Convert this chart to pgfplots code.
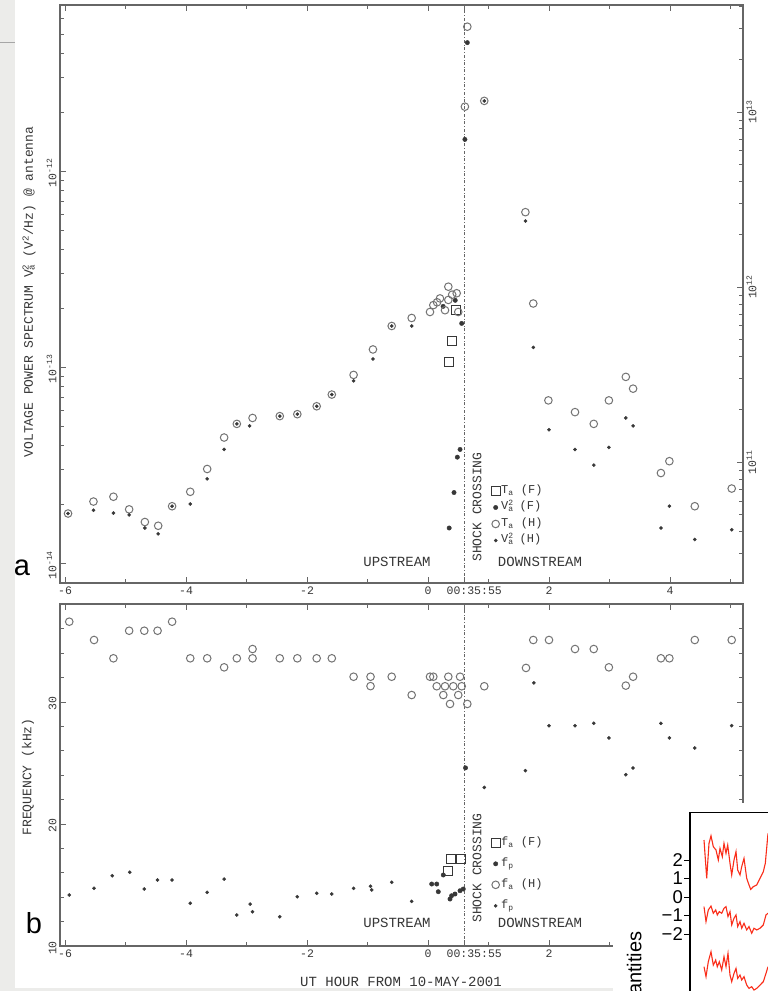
\documentclass[border=0pt]{standalone}
\usepackage{pgfplots}
\pgfplotsset{compat=1.18}
\usepackage{fontspec}
\setmainfont{Liberation Mono}
\newfontfamily\helv{Liberation Sans}
\definecolor{slide}{RGB}{236,236,234}
\definecolor{ink}{RGB}{55,55,55}
\definecolor{redline}{RGB}{250,45,25}
\newcommand\fsz[1]{\fontsize{#1}{#1}\selectfont}
\newcommand\supsub[2]{\rlap{\textsuperscript{#1}}\textsubscript{#2}\hspace{0.5em}}
\pgfplotsset{
  myax/.style={
    scale only axis,
    xmin=-6.083, xmax=5.207,
    axis line style={black!60, line width=1.1pt},
    every tick/.style={black!60, line width=0.8pt},
    major tick length=6pt, minor tick length=4pt,
    tick align=inside,
    xtick={-6,-4,-2,0,2,4},
    xticklabels={-6,-4,-2,0,2,4},
    minor xtick={-5,-3,-1,1,3,5},
    extra x ticks={0.599},
    extra x tick labels={00:35:55},
    extra x tick style={tick label style={xshift=10pt}},
    tick label style={font=\fsz{11.5}, text=ink},
    clip=false,
  },
  tsq/.style={only marks, mark=square, mark size=4.5pt, ink, mark options={line width=0.9pt, fill=none}},
  vf/.style={only marks, mark=*, mark size=2.2pt, ink, mark options={fill=ink}},
  th/.style={only marks, mark=o, mark size=3.8pt, black!55, mark options={line width=1pt}},
  vh/.style={only marks, mark=*, mark size=1.6pt, ink, mark options={fill=ink}},
  legend image code/.code={\draw[mark repeat=2,mark phase=2,#1] plot coordinates {(0pt,0pt) (4pt,0pt) (8pt,0pt)};},
}
\begin{document}
\begin{tikzpicture}[x=1pt,y=1pt]
\path[use as bounding box] (0,0) rectangle (768,-991);
\clip (0,0) rectangle (768,-991);
\fill[slide] (0,0) rectangle (768,-991);
\fill[white] (15,0) rectangle (768,-991);
\draw[black!35, line width=1pt] (0,-42) -- (15,-42);

% ---------------- top panel ----------------
\begin{axis}[myax, at={(60pt,-583pt)}, anchor=south west, width=683pt, height=578pt,
  ymode=log, ymin=7.91e-15, ymax=7.03e-12,
  ytick={1e-14,1e-13,1e-12},
  yticklabels={10\textsuperscript{-14},10\textsuperscript{-13},10\textsuperscript{-12}},
  minor ytick={2e-14,3e-14,4e-14,5e-14,6e-14,7e-14,8e-14,9e-14,2e-13,3e-13,4e-13,5e-13,6e-13,7e-13,8e-13,9e-13,2e-12,3e-12,4e-12,5e-12,6e-12},
  ytick pos=left,
  yticklabel style={rotate=90, anchor=south, xshift=-2pt},
  legend style={draw=none, fill=none, at={(0.631,0.1739)}, anchor=north west, font=\fsz{12}, text=ink,
    row sep=0pt, inner sep=0pt, nodes={inner sep=1pt, text height=9.5pt, text depth=5pt}, cells={anchor=west}},
]
\addplot[forget plot, black!60, dash dot, line width=0.8pt] coordinates {(0.599,7.91e-15) (0.599,7.03e-12)};
\addplot[tsq] coordinates {(0.39,1.36e-13) (0.35,1.06e-13) (0.47,1.95e-13)};
\addplot[vf] coordinates {(0.557,1.67e-13) (0.485,3.47e-14) (0.53,3.80e-14) (0.43,2.29e-14) (0.35,1.51e-14)
  (0.61,1.45e-12) (0.65,4.52e-12) (0.25,2.04e-13) (0.45,2.19e-13)};
\addplot[th] coordinates {(-5.95,1.79e-14) (-5.53,2.06e-14) (-5.2,2.18e-14) (-4.94,1.88e-14) (-4.68,1.62e-14)
  (-4.46,1.55e-14) (-4.23,1.95e-14) (-3.93,2.31e-14) (-3.65,3.02e-14) (-3.37,4.37e-14) (-3.16,5.13e-14)
  (-2.90,5.50e-14) (-2.45,5.62e-14) (-2.16,5.75e-14) (-1.84,6.31e-14) (-1.59,7.24e-14) (-1.23,9.12e-14)
  (-0.91,1.23e-13) (-0.60,1.62e-13) (-0.27,1.78e-13)
  (0.033,1.91e-13) (0.088,2.07e-13) (0.198,2.24e-13) (0.281,1.95e-13) (0.336,2.57e-13) (0.336,2.20e-13)
  (0.474,2.38e-13) (0.50,1.91e-13) (0.15,2.14e-13) (0.40,2.34e-13)
  (0.61,2.13e-12) (0.65,5.45e-12) (0.93,2.28e-12)
  (1.61,6.17e-13) (1.74,2.11e-13) (1.99,6.76e-14) (2.43,5.89e-14) (2.74,5.13e-14) (2.99,6.76e-14)
  (3.27,8.91e-14) (3.39,7.76e-14) (3.85,2.88e-14) (3.99,3.31e-14) (4.41,1.95e-14) (5.02,2.40e-14)};
\addplot[vh] coordinates {(-5.95,1.79e-14) (-5.53,1.86e-14) (-5.2,1.80e-14) (-4.94,1.76e-14) (-4.68,1.51e-14)
  (-4.46,1.41e-14) (-4.23,1.95e-14) (-3.93,2.00e-14) (-3.65,2.69e-14) (-3.37,3.80e-14) (-3.16,5.13e-14)
  (-2.95,5.01e-14) (-2.45,5.62e-14) (-2.16,5.75e-14) (-1.84,6.31e-14) (-1.59,7.24e-14) (-1.23,8.51e-14)
  (-0.91,1.10e-13) (-0.6,1.62e-13) (-0.27,1.62e-13)
  (0.93,2.28e-12) (1.61,5.56e-13) (1.74,1.26e-13) (2.0,4.79e-14) (2.43,3.80e-14) (2.74,3.16e-14)
  (2.99,3.89e-14) (3.27,5.50e-14) (3.39,5.01e-14) (3.85,1.51e-14) (3.99,1.95e-14) (4.41,1.32e-14) (5.02,1.48e-14)};
\legend{T\textsubscript{a} (F),V\supsub{2}{a}(F),T\textsubscript{a} (H),V\supsub{2}{a}(H)}
\end{axis}
% right axis of top panel
\begin{axis}[at={(60pt,-583pt)}, anchor=south west, scale only axis, width=683pt, height=578pt,
  xmin=-6.083, xmax=5.207, hide x axis, axis y line*=right,
  axis line style={black!60, line width=1.1pt},
  every tick/.style={black!60, line width=0.8pt},
  major tick length=6pt, minor tick length=4pt, tick align=inside,
  ymode=log, ymin=2.04e10, ymax=4.08e13,
  ytick={1e11,1e12,1e13},
  yticklabels={10\textsuperscript{11},10\textsuperscript{12},10\textsuperscript{13}},
  minor ytick={3e10,4e10,5e10,6e10,7e10,8e10,9e10,2e11,3e11,4e11,5e11,6e11,7e11,8e11,9e11,2e12,3e12,4e12,5e12,6e12,7e12,8e12,9e12,2e13,3e13,4e13},
  yticklabel style={rotate=90, anchor=north, font=\fsz{11.5}, text=ink},
]
\end{axis}

% ---------------- bottom panel ----------------
\begin{axis}[myax, at={(60pt,-946pt)}, anchor=south west, width=683pt, height=342pt,
  ymin=10, ymax=38.03,
  ytick={10,20,30}, yticklabels={10,20,30},
  minor ytick={12,14,16,18,22,24,26,28,32,34,36,38},
  yticklabel style={rotate=90, anchor=south, xshift=-2pt},
  legend style={draw=none, fill=none, at={(0.631,0.333)}, anchor=north west, font=\fsz{12}, text=ink,
    row sep=0pt, inner sep=0pt, nodes={inner sep=1pt, text height=12pt, text depth=7pt}, cells={anchor=west}},
]
\addplot[forget plot, black!60, dash dot, line width=0.8pt] coordinates {(0.599,10) (0.599,38.03)};
\addplot[tsq] coordinates {(0.38,17.13) (0.545,17.13) (0.336,16.17)};
\addplot[vf] coordinates {(0.253,15.82) (0.061,15.08) (0.144,15.08) (0.17,14.45) (0.364,13.85)
  (0.446,14.26) (0.529,14.53) (0.583,14.67) (0.39,14.12) (0.62,24.6)};
\addplot[th] coordinates {(-5.93,36.58) (-5.52,35.08) (-5.2,33.58) (-4.94,35.84) (-4.69,35.84) (-4.47,35.84)
  (-4.23,36.58) (-3.93,33.58) (-3.65,33.58) (-3.37,32.84) (-3.16,33.58) (-2.9,34.34) (-2.9,33.58)
  (-2.45,33.58) (-2.16,33.58) (-1.84,33.58) (-1.59,33.58) (-1.23,32.07) (-0.95,32.07) (-0.95,31.3)
  (-0.6,32.07) (-0.27,30.57)
  (0.033,32.07) (0.088,32.07) (0.336,32.07) (0.53,32.07) (0.144,31.29) (0.281,31.29) (0.418,31.29)
  (0.557,31.29) (0.253,30.57) (0.5,30.57) (0.364,29.84) (0.65,29.84)
  (0.93,31.29) (1.62,32.79) (1.74,35.08) (2.0,35.08) (2.43,34.34) (2.74,34.34) (2.99,32.84)
  (3.27,31.34) (3.39,32.07) (3.85,33.58) (3.99,33.58) (4.41,35.08) (5.02,35.08)};
\addplot[vh] coordinates {(-5.93,14.18) (-5.52,14.73) (-5.22,15.76) (-4.93,16.04) (-4.69,14.67) (-4.47,15.41)
  (-4.23,15.41) (-3.93,13.5) (-3.65,14.4) (-3.37,15.49) (-3.16,12.54) (-2.94,13.44) (-2.9,12.81)
  (-2.45,12.4) (-2.16,14.04) (-1.84,14.32) (-1.59,14.26) (-1.23,14.73) (-0.95,14.9) (-0.93,14.6)
  (-0.6,15.22) (-0.27,13.66)
  (0.93,23.0) (1.61,24.37) (1.75,31.56) (2.0,28.06) (2.43,28.06) (2.74,28.25) (2.99,27.05)
  (3.27,24.04) (3.39,24.59) (3.85,28.25) (3.99,27.05) (4.41,26.23) (5.02,28.06)};
\legend{f\textsubscript{a} (F),f\textsubscript{p},f\textsubscript{a} (H),f\textsubscript{p}}
\end{axis}

% ---------------- annotations ----------------
\begin{scope}[every node/.style={text=ink}]
\node[font=\fsz{14}] at (397,-562) {UPSTREAM};
\node[font=\fsz{14}] at (540,-562) {DOWNSTREAM};
\node[font=\fsz{13}, rotate=90] at (477,-507) {SHOCK CROSSING};
\node[font=\fsz{14}] at (397,-923) {UPSTREAM};
\node[font=\fsz{14}] at (540,-923) {DOWNSTREAM};
\node[font=\fsz{13}, rotate=90] at (477,-868) {SHOCK CROSSING};
\node[font=\fsz{13}, rotate=90] at (29,-292) {VOLTAGE POWER SPECTRUM V\supsub{2}{a}(V\textsuperscript{2}/Hz) @ antenna};
\node[font=\fsz{13}, rotate=90] at (28,-777) {FREQUENCY (kHz)};
\node[font=\fsz{14}, anchor=base] at (401,-986) {UT HOUR FROM 10-MAY-2001};
\end{scope}
\fill[slide] (0,-988) rectangle (613,-991);
\node[font=\helv\fsz{29}, anchor=base, inner sep=0pt] at (22,-575) {a};
\node[font=\helv\fsz{29}, anchor=base, inner sep=0pt] at (34,-933) {b};

% ---------------- overlapping picture ----------------
\fill[white] (613,-803) rectangle (768,-991);
\node[font=\helv\fsz{20}, rotate=90, anchor=east] at (636,-928) {Quantities};
\begin{axis}[at={(690pt,-812.7pt)}, anchor=north west, scale only axis, width=110pt, height=187.3pt,
  xmin=690, xmax=800, ymin=-5.57, ymax=4.557,
  axis line style={black, line width=1.1pt},
  xtick=\empty, ytick={-2,-1,0,1,2}, yticklabels={−2,−1,0,1,2},
  ytick pos=left, tick align=outside, major tick length=6pt,
  every tick/.style={black, line width=0.9pt},
  yticklabel style={font=\helv\fsz{18.5}, inner sep=1pt},
]
\addplot[redline, line width=1.1pt] coordinates {(704,3.08) (706.7,1.01) (709,2.9) (711,3.31) (713.3,2.72)
  (716,2.54) (718.3,2.0) (720,2.63) (722.3,2.18) (724,2.9) (726,2.36) (727.7,2.81) (730,1.82) (731.7,1.19)
  (734,2.0) (736,2.45) (737.7,1.46) (740,1.19) (741.7,1.64) (744,2.09) (746.7,1.01) (749,0.65) (750.7,0.41)
  (753.3,0.56) (756.7,0.65) (760,1.01) (763.3,1.37) (765.3,1.82) (768,3.44)};
\addplot[redline, line width=1.1pt] coordinates {(704,-0.52) (706,-1.33) (708.3,-0.70) (711,-0.49) (713.3,-0.88)
  (715.7,-0.70) (717.3,-0.97) (719.3,-0.79) (721.7,-0.88) (724,-0.61) (726,-0.52) (728,-1.06) (730,-0.79)
  (731.7,-1.51) (734,-1.15) (736,-0.97) (737.7,-1.60) (740,-1.33) (741.7,-1.69) (744,-1.42) (746.7,-1.78)
  (749,-1.60) (751.7,-1.96) (754,-1.69) (756.7,-1.78) (760,-1.69) (763.3,-1.51) (766,-0.97) (768,-0.88)};
\addplot[redline, line width=1.1pt] coordinates {(704,-3.77) (706,-4.31) (708.3,-3.50) (711,-2.96) (713.3,-3.68)
  (715.7,-3.41) (717.3,-3.77) (719.3,-3.50) (721.7,-3.95) (724,-3.23) (726,-3.77) (728,-3.05) (730,-4.22)
  (731.7,-4.58) (734,-4.13) (736,-3.86) (737.7,-4.40) (740,-4.22) (741.7,-4.49) (744,-4.31) (746.7,-4.76)
  (749,-4.94) (751.7,-4.85) (754,-5.03) (756.7,-4.94) (760,-4.76) (763.3,-4.58) (766,-4.13) (768,-3.77)};
\end{axis}
\end{tikzpicture}
\end{document}
